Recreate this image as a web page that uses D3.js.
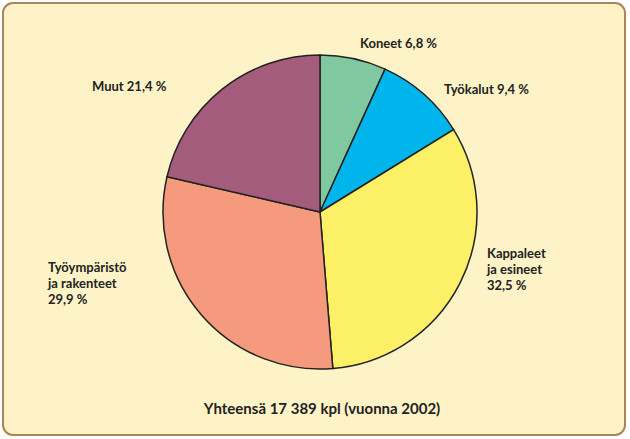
<!DOCTYPE html>
<html><head><meta charset="utf-8">
<script src="https://cdn.jsdelivr.net/npm/d3@7"></script>
<style>body{margin:0;background:#fff}</style>
</head><body>
<svg id="chart" width="630" height="439"></svg>
<script>
const categories = ["Koneet", "Työkalut", "Kappaleet ja esineet", "Työympäristö ja rakenteet", "Muut"];
const values = [6.8, 9.4, 32.5, 29.9, 21.4];
const colors = ["#80c9a0", "#00b5ec", "#fbf066", "#f59a7c", "#a45c7c"];
const labelLines = [["Koneet  6,8 %"], ["Työkalut 9,4 %"], ["Kappaleet", "ja esineet", "32,5 %"], ["Työympäristö", "ja rakenteet", "29,9 %"], ["Muut 21,4 %"]];
const labelPos = [[360, 48], [444, 94], [487, 258], [48, 272], [92, 91]];
const total = "Yhteensä  17 389 kpl (vuonna 2002)";

const svg = d3.select("#chart");
svg.append("rect").attr("x", 3).attr("y", 3).attr("width", 622).attr("height", 432)
  .attr("rx", 10).attr("fill", "#fdf3c6").attr("stroke", "#a8865a").attr("stroke-width", 2);

const cx = 320, cy = 212, r = 157;
const pie = d3.pie().sort(null).value(d => d)(values);
const arc = d3.arc().innerRadius(0).outerRadius(r);
const g = svg.append("g").attr("transform", `translate(${cx},${cy})`);
g.selectAll("path").data(pie).enter().append("path")
  .attr("d", arc).attr("fill", (d, i) => colors[i])
  .attr("stroke", "#222").attr("stroke-width", 1.5);

labelLines.forEach((lines, i) => {
  const t = svg.append("text").attr("x", labelPos[i][0]).attr("y", labelPos[i][1])
    .attr("font-family", "Lato, sans-serif").attr("font-weight", "bold")
    .attr("font-size", 13).attr("fill", "#222");
  lines.forEach((l, j) => t.append("tspan").attr("x", labelPos[i][0]).attr("dy", j ? 16 : 0).text(l));
});
svg.append("text").attr("x", 322).attr("y", 414).attr("text-anchor", "middle")
  .attr("font-family", "Lato, sans-serif").attr("font-weight", "bold")
  .attr("font-size", 15).attr("fill", "#222").text(total);
</script>
</body></html>
